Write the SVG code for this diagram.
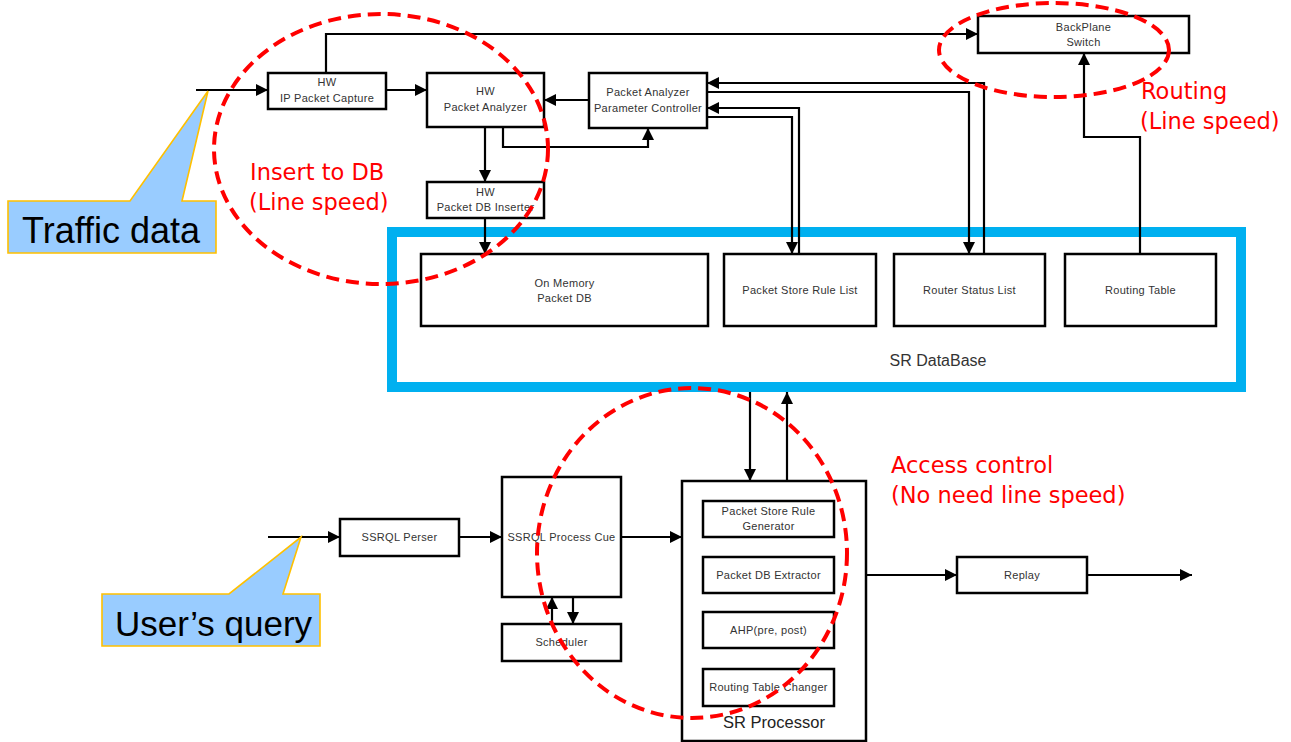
<svg xmlns="http://www.w3.org/2000/svg" width="1291" height="742" viewBox="0 0 1291 742">
<defs>
<marker id="ah" markerUnits="userSpaceOnUse" markerWidth="13" markerHeight="13" refX="12" refY="6" orient="auto">
<path d="M0,0 L12,6 L0,12 Z" fill="#000"/>
</marker>
<style>
.box{fill:#fff;stroke:#000;stroke-width:2.5}
.t{font-family:"Liberation Sans",Arial,sans-serif;font-size:11px;fill:#333;text-anchor:middle;letter-spacing:0.3px}
.c{fill:none;stroke:#000;stroke-width:2.2;marker-end:url(#ah)}
.ell{fill:none;stroke:#f00;stroke-width:4;stroke-dasharray:13 7}
.red{font-family:"DejaVu Sans",sans-serif;font-size:22.5px;fill:#f00}
.callout{fill:#99CCFF;stroke:#FFC000;stroke-width:1.6}
.ct{font-family:"Liberation Sans",Arial,sans-serif;font-size:36px;fill:#000}
.big{font-family:"Liberation Sans",Arial,sans-serif;font-size:16px;fill:#333;text-anchor:middle}
</style>
</defs>
<rect width="1291" height="742" fill="#fff"/>

<g id="sr-database">
<rect x="392" y="232" width="849" height="155" fill="#fff" stroke="#00B0F0" stroke-width="10"/>
<text class="big" x="938" y="366">SR DataBase</text>
</g>

<g id="ip-capture"><rect class="box" x="268" y="73" width="118" height="36"/><text class="t" x="327" y="86">HW</text><text class="t" x="327" y="102">IP Packet Capture</text></g>
<g id="packet-analyzer"><rect class="box" x="427" y="73" width="117" height="54"/><text class="t" x="485.5" y="95">HW</text><text class="t" x="485.5" y="111">Packet Analyzer</text></g>
<g id="db-inserter"><rect class="box" x="427" y="182" width="117" height="36"/><text class="t" x="485.5" y="196">HW</text><text class="t" x="485.5" y="211">Packet DB Inserter</text></g>
<g id="param-controller"><rect class="box" x="589" y="73" width="118" height="55"/><text class="t" x="648" y="96">Packet Analyzer</text><text class="t" x="648" y="112">Parameter Controller</text></g>
<g id="backplane"><rect class="box" x="978" y="16" width="211" height="37"/><text class="t" x="1083.5" y="31">BackPlane</text><text class="t" x="1083.5" y="46">Switch</text></g>

<g id="on-memory-db"><rect class="box" x="421" y="254" width="287" height="72"/><text class="t" x="564.5" y="287">On Memory</text><text class="t" x="564.5" y="302">Packet DB</text></g>
<g id="psrl"><rect class="box" x="724" y="254" width="152" height="72"/><text class="t" x="800" y="294">Packet Store Rule List</text></g>
<g id="rsl"><rect class="box" x="894" y="254" width="151" height="72"/><text class="t" x="969.5" y="294">Router Status List</text></g>
<g id="routing-table"><rect class="box" x="1065" y="254" width="151" height="72"/><text class="t" x="1140.5" y="294">Routing Table</text></g>

<g id="ssrql-perser"><rect class="box" x="340" y="519" width="119" height="37"/><text class="t" x="399.5" y="541">SSRQL Perser</text></g>
<g id="process-cue"><rect class="box" x="502" y="477" width="119" height="120"/><text class="t" x="561.5" y="541">SSRQL Process Cue</text></g>
<g id="scheduler"><rect class="box" x="502" y="624" width="119" height="37"/><text class="t" x="561.5" y="646">Scheduler</text></g>

<g id="sr-processor">
<rect class="box" x="682" y="481" width="184" height="260"/>
<text class="big" x="774" y="728" style="font-size:16.5px;fill:#222">SR Processor</text>
</g>
<g id="psr-generator"><rect class="box" x="703" y="501" width="131" height="36"/><text class="t" x="768.5" y="515">Packet Store Rule</text><text class="t" x="768.5" y="530">Generator</text></g>
<g id="db-extractor"><rect class="box" x="703" y="557" width="131" height="36"/><text class="t" x="768.5" y="579">Packet DB Extractor</text></g>
<g id="ahp"><rect class="box" x="703" y="612" width="131" height="36"/><text class="t" x="768.5" y="634">AHP(pre, post)</text></g>
<g id="rt-changer"><rect class="box" x="703" y="669" width="131" height="37"/><text class="t" x="768.5" y="691">Routing Table Changer</text></g>

<g id="replay"><rect class="box" x="957" y="557" width="130" height="36"/><text class="t" x="1022" y="579">Replay</text></g>

<g id="connectors">
<path class="c" d="M196,90 H268"/>
<path class="c" d="M386,90 H427"/>
<path class="c" d="M326,73 V34 H978"/>
<path class="c" d="M485,127 V182"/>
<path class="c" d="M485,218 V254"/>
<path class="c" d="M503,127 V147 H648 V128"/>
<path class="c" d="M589,100 H544"/>
<path class="c" d="M984,254 V83 H707"/>
<path class="c" d="M707,92 H969 V254"/>
<path class="c" d="M799,254 V108 H707"/>
<path class="c" d="M707,117 H792 V254"/>
<path class="c" d="M1140,254 V137 H1084 V53"/>
<path class="c" d="M750,392 V481"/>
<path class="c" d="M787,481 V392"/>
<path class="c" d="M268,537 H340"/>
<path class="c" d="M459,537 H502"/>
<path class="c" d="M621,537 H682"/>
<path class="c" d="M552,624 V597"/>
<path class="c" d="M573,597 V624"/>
<path class="c" d="M866,575 H957"/>
<path class="c" d="M1087,575 H1192"/>
</g>

<g id="traffic-callout">
<path class="callout" d="M8,201 H130 L208,91 L182,201 H216 V253 H8 Z"/>
<text class="ct" x="22" y="243">Traffic data</text>
</g>
<g id="query-callout">
<path class="callout" d="M102,594 H229 L301,537 L283,594 H320 V646 H102 Z"/>
<text class="ct" x="115" y="636" style="font-size:35px">User’s query</text>
</g>

<g id="annotations">
<ellipse class="ell" cx="381" cy="149" rx="167" ry="135"/>
<ellipse class="ell" cx="1054" cy="50" rx="115" ry="47"/>
<ellipse class="ell" cx="692" cy="553" rx="155" ry="165"/>
<text class="red" x="250" y="180">Insert to DB</text>
<text class="red" x="249" y="210">(Line speed)</text>
<text class="red" x="1141" y="99">Routing</text>
<text class="red" x="1140" y="129">(Line speed)</text>
<text class="red" x="891" y="473">Access control</text>
<text class="red" x="891" y="503">(No need line speed)</text>
</g>
</svg>
